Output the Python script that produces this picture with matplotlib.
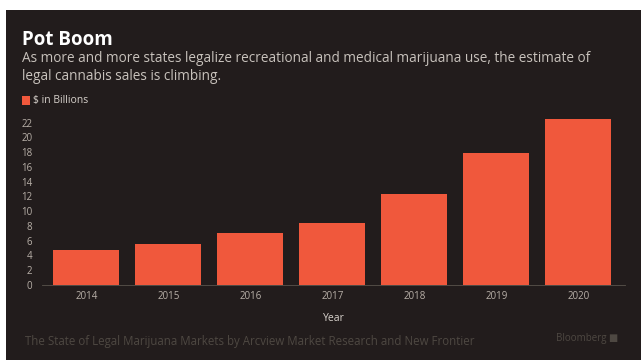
import matplotlib.pyplot as plt
import matplotlib.patches as patches

years = ["2014", "2015", "2016", "2017", "2018", "2019", "2020"]
sales = [4.7, 5.5, 7.0, 8.4, 12.4, 17.9, 22.5]
y_ticks = [0, 2, 4, 6, 8, 10, 12, 14, 16, 18, 20, 22]

bg = "#221c1c"
bar_color = "#f0583c"
text_light = "#d8d2cc"
tick_color = "#b8b0a8"

plt.rcParams["font.family"] = ["Open Sans", "DejaVu Sans"]

fig = plt.figure(figsize=(6.41, 3.6), dpi=100)
fig.patch.set_facecolor("white")
# dark panel (the scan leaves a thin white margin at top and left)
fig.add_artist(patches.Rectangle((6 / 641, 0), 1, 1 - 10 / 360,
                                 transform=fig.transFigure,
                                 facecolor=bg, edgecolor="none", zorder=0))

ax = fig.add_axes([42 / 641, 75 / 360, 583 / 641, 170 / 360])
ax.set_facecolor(bg)
ax.patch.set_alpha(0)

x = range(len(years))
ax.bar(x, sales, width=0.8, color=bar_color, zorder=2)

ax.set_xlim(-0.54, 6.57)
ax.set_ylim(0, 23.04)
ax.set_yticks(y_ticks)
ax.set_yticklabels([str(v) for v in y_ticks])
ax.set_xticks(list(x))
ax.set_xticklabels(years)
ax.tick_params(axis="both", length=0, colors=tick_color, labelsize=7)
ax.tick_params(axis="x", pad=4)
ax.tick_params(axis="y", pad=7)

for side in ["top", "right", "left"]:
    ax.spines[side].set_visible(False)
ax.spines["bottom"].set_color("#5a544c")
ax.spines["bottom"].set_linewidth(0.6)

ax.set_xlabel("Year", color=text_light, fontsize=7.5, labelpad=8)

fig.text(22 / 641, 1 - 40 / 360, "Pot Boom", color="white", fontsize=13.5,
         fontweight="bold", va="center")
fig.text(22 / 641, 1 - 59 / 360,
         "As more and more states legalize recreational and medical marijuana use, the estimate of",
         color="#c8c2bc", fontsize=9.8, va="center")
fig.text(22 / 641, 1 - 76 / 360, "legal cannabis sales is climbing.",
         color="#c8c2bc", fontsize=9.8, va="center")

fig.add_artist(patches.Rectangle((22 / 641, 1 - 105 / 360), 8 / 641, 9 / 360,
                                 transform=fig.transFigure,
                                 facecolor=bar_color, edgecolor="none"))
fig.text(33 / 641, 1 - 101 / 360, "$ in Billions", color=text_light,
         fontsize=7.5, va="center")

fig.text(25 / 641, 1 - 342 / 360,
         "The State of Legal Marijuana Markets by Arcview Market Research and New Frontier",
         color="#4e4842", fontsize=8.3, va="center")
fig.text(618 / 641, 1 - 339 / 360, "Bloomberg \u25a0", color="#4e4842",
         fontsize=7, va="center", ha="right")

fig.savefig("out.png", dpi=100, facecolor=fig.get_facecolor())
